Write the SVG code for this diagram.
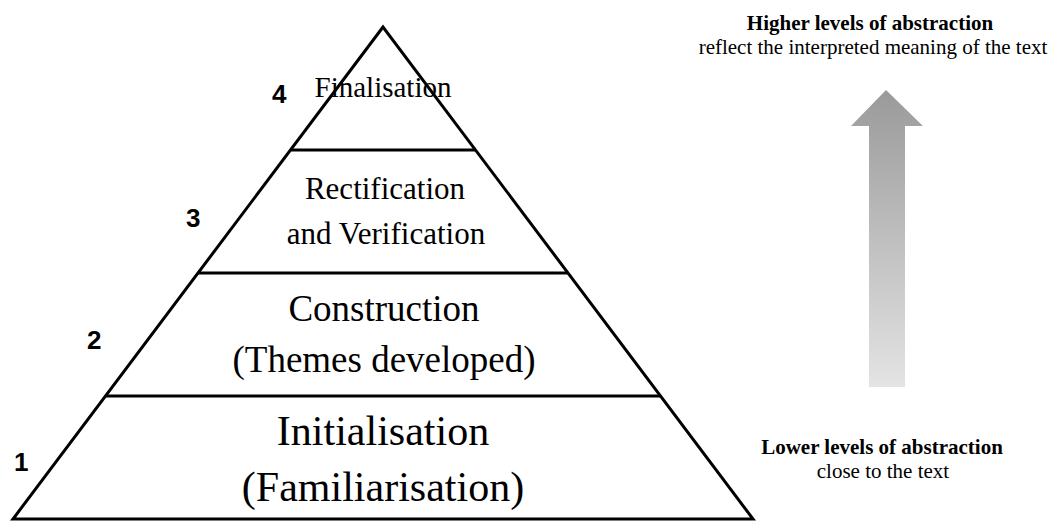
<svg xmlns="http://www.w3.org/2000/svg" width="1056" height="521" viewBox="0 0 1056 521">
  <style>
    .edge { fill: none; stroke: #000; stroke-width: 3; stroke-linejoin: miter; }
    .tier { font-family: "Liberation Serif", "Times New Roman", serif; fill: #000; text-anchor: middle; }
    .num { font-family: "Liberation Sans", Arial, sans-serif; font-weight: bold; font-size: 26px; fill: #000; }
    .note { font-family: "Liberation Serif", "Times New Roman", serif; fill: #000; text-anchor: middle; }
  </style>
  <defs>
    <linearGradient id="arrowFill" x1="0" y1="0" x2="0" y2="1">
      <stop offset="0" stop-color="#9a9a9a"/>
      <stop offset="1" stop-color="#e4e4e4"/>
    </linearGradient>
  </defs>

  <!-- pyramid outline and tier dividers -->
  <g id="pyramid">
    <path class="edge" d="M383,27 L13,519 L753,519 Z"/>
    <line class="edge" x1="290" y1="150" x2="476" y2="150"/>
    <line class="edge" x1="198" y1="273" x2="568" y2="273"/>
    <line class="edge" x1="106" y1="396" x2="661" y2="396"/>
  </g>

  <g id="tier4">
    <text class="tier" x="383" y="97" font-size="29">Finalisation</text>
    <text class="num" x="272" y="103">4</text>
  </g>
  <g id="tier3">
    <text class="tier" x="385" y="199" font-size="31">Rectification</text>
    <text class="tier" x="386" y="244" font-size="31">and Verification</text>
    <text class="num" x="186" y="227">3</text>
  </g>
  <g id="tier2">
    <text class="tier" x="384" y="321" font-size="37">Construction</text>
    <text class="tier" x="384" y="372" font-size="37">(Themes developed)</text>
    <text class="num" x="87" y="349">2</text>
  </g>
  <g id="tier1">
    <text class="tier" x="383" y="445" font-size="42">Initialisation</text>
    <text class="tier" x="383" y="501" font-size="42">(Familiarisation)</text>
    <text class="num" x="14" y="471">1</text>
  </g>

  <!-- abstraction scale -->
  <g id="scale-arrow">
    <path d="M886,90 L923,126 L905,126 L905,387 L869,387 L869,126 L851,126 Z" fill="url(#arrowFill)"/>
  </g>
  <g id="label-high">
    <text class="note" x="870" y="30" font-size="21" font-weight="bold">Higher levels of abstraction</text>
    <text class="note" x="873" y="54" font-size="21">reflect the interpreted meaning of the text</text>
  </g>
  <g id="label-low">
    <text class="note" x="882" y="454" font-size="21" font-weight="bold">Lower levels of abstraction</text>
    <text class="note" x="883" y="478" font-size="21">close to the text</text>
  </g>
</svg>
